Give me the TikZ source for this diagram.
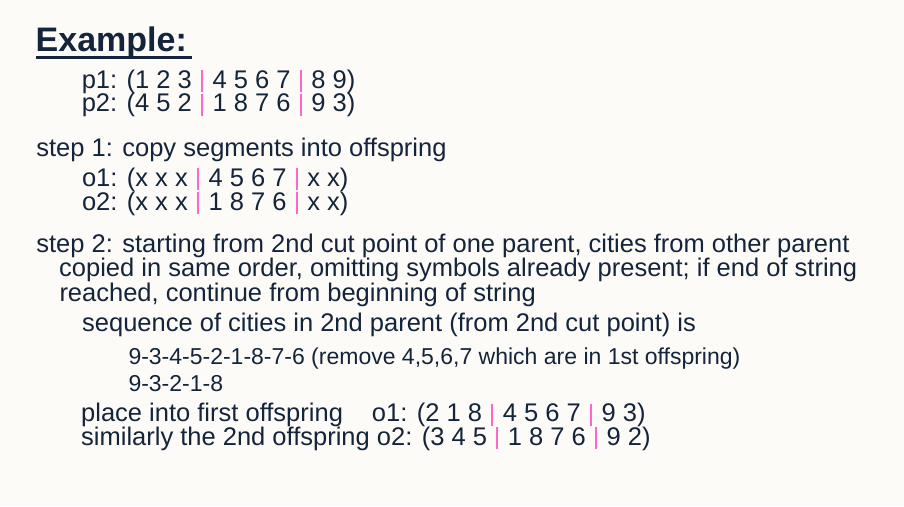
\documentclass[tikz,border=0pt]{standalone}
\usepackage{fontspec}
\setmainfont{Liberation Sans}
\definecolor{navy}{HTML}{14243A}
\definecolor{barpink}{HTML}{FF66CC}
\definecolor{bg}{HTML}{FCFBF8}
\newcommand{\pbar}{\makebox[0.26em]{\textcolor{barpink}{\rule[-0.15em]{2pt}{0.86em}}}}
\begin{document}
\begin{tikzpicture}[x=1pt,y=-1pt,
  txt/.style={anchor=base west, inner sep=0pt, text=navy, font=\fontsize{25.5}{28}\selectfont},
  small/.style={txt, font=\fontsize{23}{26}\selectfont},
  title/.style={txt, font=\fontsize{34}{38}\selectfont\bfseries}]
\fill[bg] (0,0) rectangle (904,506);
\useasboundingbox (0,0) rectangle (904,506);
\node[title] (ex) at (35.5,51.5) {Example:};
\draw[navy, line width=3pt] ([yshift=-5.5pt]ex.base west) -- ([xshift=5pt,yshift=-5.5pt]ex.base east);
\node[txt] (p1) at (81.6,88.3) {p1: (1 2 3 \pbar{} 4 5 6 7 \pbar{} 8 9)};
\node[txt] (p2) at (81.6,111.7) {p2: (4 5 2 \pbar{} 1 8 7 6 \pbar{} 9 3)};
\node[txt] (s1) at (36.2,156) {step 1: copy segments into offspring};
\node[txt] (o1) at (81.8,186) {o1: (x x x \pbar{} 4 5 6 7 \pbar{} x x)};
\node[txt] (o2) at (81.8,210) {o2: (x x x \pbar{} 1 8 7 6 \pbar{} x x)};
\node[txt] (s2a) at (36.2,252.7) {step 2: starting from 2nd cut point of one parent, cities from other parent};
\node[txt] (s2b) at (59,276.7) {copied in same order, omitting symbols already present; if end of string};
\node[txt] (s2c) at (59.3,301) {reached, continue from beginning of string};
\node[txt] (sq) at (82,331.7) {sequence of cities in 2nd parent (from 2nd cut point) is};
\node[small] (l1) at (128.3,364) {9-3-4-5-2-1-8-7-6 (remove 4,5,6,7 which are in 1st offspring)};
\node[small] (l2) at (128.3,391.7) {9-3-2-1-8};
\node[txt] (pl) at (81,421.7) {place into first offspring\hspace{29pt}o1: (2 1 8 \pbar{} 4 5 6 7 \pbar{} 9 3)};
\node[txt] (sim) at (81,445.3) {similarly the 2nd offspring o2: (3 4 5 \pbar{} 1 8 7 6 \pbar{} 9 2)};
\end{tikzpicture}
\end{document}
